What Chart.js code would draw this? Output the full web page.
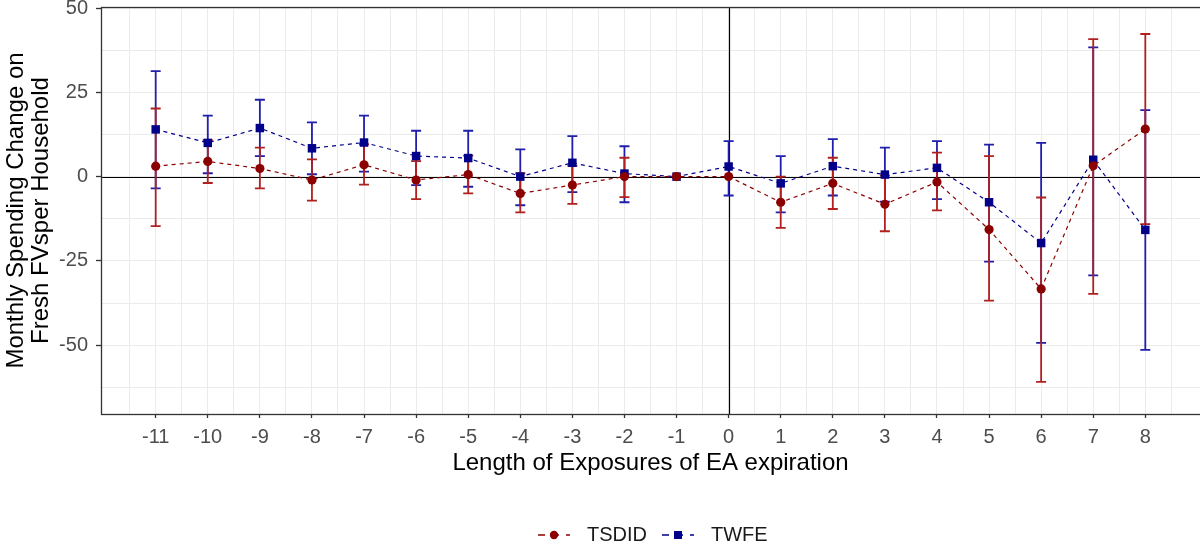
<!DOCTYPE html>
<html>
<head>
<meta charset="utf-8">
<script src="https://cdn.jsdelivr.net/npm/chart.js@4.4.1/dist/chart.umd.min.js"></script>
<style>
  html, body { margin: 0; padding: 0; background: #fff; }
  #wrap { width: 1200px; height: 550px; }
</style>
</head>
<body>
<div id="wrap"><canvas id="chart" width="1200" height="550"></canvas></div>
<script>
// event time (months relative to EA expiration)
const periods = [-11, -10, -9, -8, -7, -6, -5, -4, -3, -2, -1, 0, 1, 2, 3, 4, 5, 6, 7, 8];

// TSDID estimates + 95% CI
const tsdid   = [3.1, 4.5, 2.4, -1.0, 3.5, -1.0, 0.6, -5.0, -2.5, 0.0, 0.0, 0.0, -7.6, -2.0, -8.2, -1.6, -15.7, -33.3, 3.2, 14.1];
const tsdidLo = [-14.7, -1.9, -3.5, -7.1, -2.4, -6.7, -5.0, -10.6, -8.1, -6.1, null, null, -15.2, -9.6, -16.2, -10.0, -36.8, -60.9, -34.8, -14.1];
const tsdidHi = [20.2, 10.8, 8.6, 5.1, 9.6, 4.6, 6.2, 1.0, 3.2, 5.6, null, null, 0.0, 5.6, 0.3, 7.1, 6.1, -6.2, 40.8, 42.3];

// TWFE estimates + 95% CI
const twfe   = [14.0, 10.0, 14.4, 8.4, 10.1, 6.1, 5.5, 0.0, 4.1, 0.9, 0.0, 3.0, -2.0, 3.1, 0.6, 2.6, -7.6, -19.7, 5.0, -15.8];
const twfeLo = [-3.5, 1.0, 6.1, 0.7, 1.5, -2.5, -3.0, -8.5, -4.6, -7.6, null, -5.6, -10.6, -5.6, -7.4, -6.7, -25.2, -49.3, -29.3, -51.4];
const twfeHi = [31.3, 18.1, 22.8, 16.1, 18.1, 13.6, 13.6, 8.1, 12.0, 9.0, null, 10.5, 6.1, 11.1, 8.6, 10.5, 9.5, 10.0, 38.3, 19.7];

// axis breaks
const yTicks = [-50, -25, 0, 25, 50];
const yMinor = [-62.5, -37.5, -12.5, 12.5, 37.5];
const xMinor = [...periods.map(p => p - 0.5), 8.5];

const FONT = "'Liberation Sans', Arial, sans-serif";
const RED = '#8B0000', BLUE = '#00008B';
const RED_BAR = '#B0201F', BLUE_BAR = '#1F1FAA';

function drawBars(ctx, x, y, lo, hi, color) {
  ctx.strokeStyle = color;
  ctx.lineWidth = 1.8;
  ctx.beginPath();
  periods.forEach((p, i) => {
    if (lo[i] == null || hi[i] == null) return;
    const px = x.getPixelForValue(p);
    const y1 = y.getPixelForValue(hi[i]);
    const y2 = y.getPixelForValue(lo[i]);
    ctx.moveTo(px, y1); ctx.lineTo(px, y2);
    ctx.moveTo(px - 5, y1); ctx.lineTo(px + 5, y1);
    ctx.moveTo(px - 5, y2); ctx.lineTo(px + 5, y2);
  });
  ctx.stroke();
}

const errorBars = {
  id: 'errorBars',
  beforeDatasetsDraw(chart) {
    const { ctx, chartArea: a, scales: { x, y } } = chart;
    ctx.save();
    ctx.beginPath();
    ctx.rect(a.left, a.top, a.right - a.left, a.bottom - a.top);
    ctx.clip();
    // reference lines
    const y0 = Math.round(y.getPixelForValue(0)) + 0.5;
    const x0 = Math.round(x.getPixelForValue(0)) + 0.5;
    ctx.strokeStyle = '#000';
    ctx.lineWidth = 1.2;
    ctx.beginPath();
    ctx.moveTo(a.left, y0); ctx.lineTo(a.right, y0);
    ctx.moveTo(x0, a.top); ctx.lineTo(x0, a.bottom);
    ctx.stroke();
    drawBars(ctx, x, y, twfeLo, twfeHi, BLUE_BAR);
    drawBars(ctx, x, y, tsdidLo, tsdidHi, RED_BAR);
    ctx.restore();
  },
  afterDatasetsDraw(chart) {
    // panel border
    const { ctx, chartArea: a } = chart;
    ctx.save();
    ctx.strokeStyle = '#333';
    ctx.lineWidth = 1.3;
    ctx.strokeRect(Math.round(a.left) + 0.5, Math.round(a.top) + 0.5, a.right - a.left + 2, Math.round(a.bottom - a.top));
    ctx.restore();
  }
};

const legendPlugin = {
  id: 'bottomLegend',
  afterDraw(chart) {
    const { ctx } = chart;
    const cy = 535;
    const items = [
      { label: 'TSDID', x: 538, color: RED, style: 'circle' },
      { label: 'TWFE', x: 662, color: BLUE, style: 'rect' }
    ];
    ctx.save();
    items.forEach(it => {
      ctx.strokeStyle = it.color;
      ctx.lineWidth = 1.3;
      ctx.setLineDash([7, 7]);
      ctx.beginPath();
      ctx.moveTo(it.x, cy); ctx.lineTo(it.x + 32, cy);
      ctx.stroke();
      ctx.setLineDash([]);
      ctx.fillStyle = it.color;
      ctx.beginPath();
      if (it.style === 'circle') ctx.arc(it.x + 16, cy, 4.2, 0, Math.PI * 2);
      else ctx.rect(it.x + 12, cy - 4, 8, 8);
      ctx.fill();
      ctx.fillStyle = '#1a1a1a';
      ctx.font = '20px ' + FONT;
      ctx.textBaseline = 'middle';
      ctx.textAlign = 'left';
      ctx.fillText(it.label, it.x + 49, cy);
    });
    ctx.restore();
  }
};

const isMajorX = v => Number.isInteger(v) && periods.includes(v);
const isMajorY = v => yTicks.includes(v);

new Chart(document.getElementById('chart'), {
  type: 'line',
  data: {
    datasets: [
      {
        label: 'TSDID',
        data: periods.map((p, i) => ({ x: p, y: tsdid[i] })),
        borderColor: RED,
        borderWidth: 1.2,
        borderDash: [4, 4],
        pointStyle: 'circle',
        pointRadius: 4.6,
        pointBorderWidth: 0,
        pointBackgroundColor: RED,
        tension: 0
      },
      {
        label: 'TWFE',
        data: periods.map((p, i) => ({ x: p, y: twfe[i] })),
        borderColor: BLUE,
        borderWidth: 1.2,
        borderDash: [4, 4],
        pointStyle: 'rect',
        pointRadius: 6,
        pointBorderWidth: 0,
        pointBackgroundColor: BLUE,
        tension: 0
      }
    ]
  },
  options: {
    responsive: false,
    animation: false,
    devicePixelRatio: 1,
    layout: { autoPadding: false, padding: { top: 7, left: 0, right: 0, bottom: 72 } },
    plugins: {
      legend: { display: false },
      tooltip: { enabled: false }
    },
    scales: {
      x: {
        type: 'linear',
        min: -12.05,
        max: 9.05,
        afterBuildTicks: (axis) => {
          axis.ticks = [...periods, ...xMinor].sort((a, b) => a - b).map(v => ({ value: v }));
        },
        afterFit: (scale) => {
          scale.height = 64;
          scale.paddingLeft = 0;
          scale.paddingRight = 0;
        },
        border: { display: false },
        grid: {
          color: '#ebebeb',
          lineWidth: 1,
          drawTicks: true,
          tickLength: 4,
          tickWidth: 1.3,
          tickColor: (c) => isMajorX(c.tick.value) ? '#333' : 'rgba(0,0,0,0)'
        },
        ticks: {
          autoSkip: false,
          maxRotation: 0,
          padding: 7,
          color: '#4d4d4d',
          font: { family: FONT, size: 20 },
          callback: (v) => isMajorX(v) ? String(v) : ''
        },
        title: {
          display: true,
          text: 'Length of Exposures of EA expiration',
          color: '#000',
          font: { family: FONT, size: 24 },
          padding: 0
        }
      },
      y: {
        type: 'linear',
        min: -70.4,
        max: 50.3,
        afterBuildTicks: (axis) => {
          axis.ticks = [...yMinor, ...yTicks].sort((a, b) => a - b).map(v => ({ value: v }));
        },
        afterFit: (scale) => {
          scale.width = 101;
          scale.paddingTop = 0;
          scale.paddingBottom = 0;
        },
        border: { display: false },
        grid: {
          color: '#ebebeb',
          lineWidth: 1,
          drawTicks: true,
          tickLength: 5,
          tickWidth: 1.3,
          tickColor: (c) => isMajorY(c.tick.value) ? '#333' : 'rgba(0,0,0,0)'
        },
        ticks: {
          autoSkip: false,
          padding: 8,
          color: '#4d4d4d',
          font: { family: FONT, size: 20 },
          callback: (v) => isMajorY(v) ? String(v) : ''
        },
        title: {
          display: true,
          text: ['Monthly Spending Change on', 'Fresh FVsper Household'],
          color: '#000',
          font: { family: FONT, size: 24, lineHeight: 1.05 },
          padding: { top: 4, bottom: 0 }
        }
      }
    }
  },
  plugins: [errorBars, legendPlugin]
});
</script>
</body>
</html>
